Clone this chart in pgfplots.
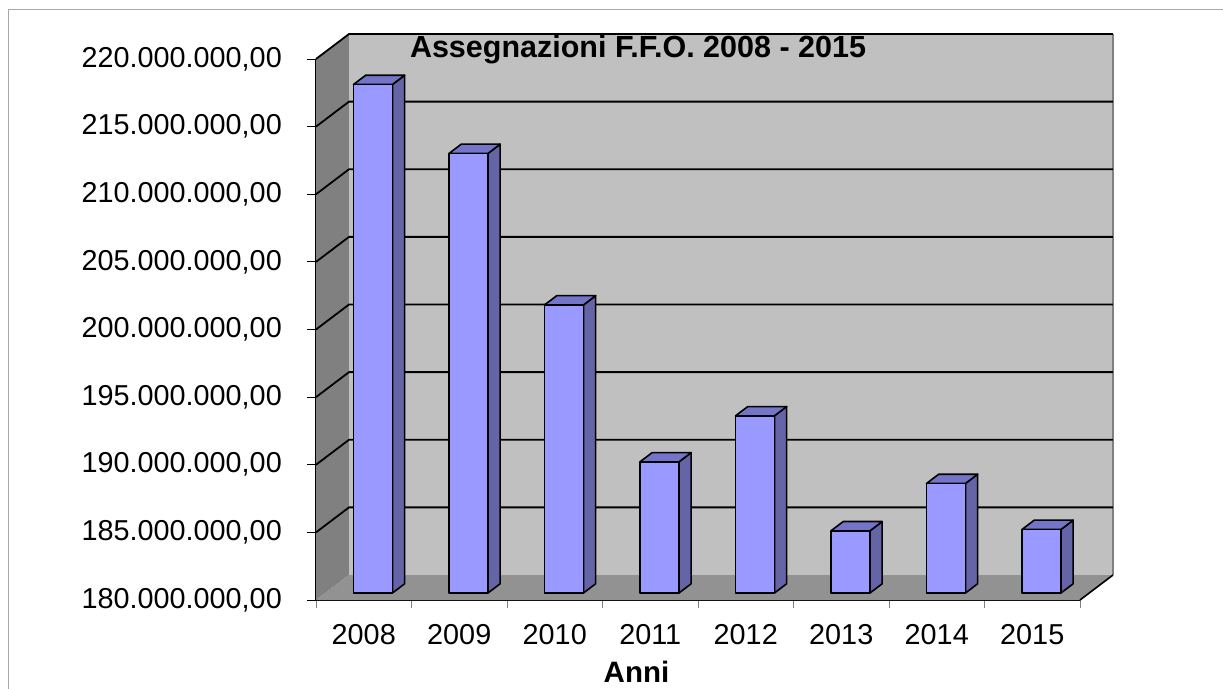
\documentclass[border=0pt]{standalone}
\usepackage{pgfplots}
\pgfplotsset{compat=1.18}
\usepackage{pgfplotstable}
\usepackage{fontspec}
\setmainfont{Liberation Sans}

\definecolor{barfront}{HTML}{9999FF}
\definecolor{bartop}{HTML}{7474C8}
\definecolor{barside}{HTML}{6464A6}
\definecolor{backwall}{HTML}{C0C0C0}
\definecolor{sidewall}{HTML}{808080}
\definecolor{floorgray}{HTML}{929292}
\definecolor{framegray}{HTML}{A8A8A8}

% FFO assignments, millions of euro
\pgfplotstableread{
idx year value
0 2008 217.6
1 2009 212.5
2 2010 201.3
3 2011 189.7
4 2012 193.1
5 2013 184.6
6 2014 188.1
7 2015 184.7
}\ffo

% depth geometry of the 3D box (axis units)
\def\hw{0.204}   % half bar width
\def\fxa{0.0967} % bar front face, x offset
\def\fya{0.517}  % bar front face, y offset
\def\fxb{0.2246} % bar back face, x offset
\def\fyb{1.201}  % bar back face, y offset

\begin{document}
\begin{tikzpicture}[font=\fontsize{29}{33}\selectfont]
\useasboundingbox (0,0) rectangle (1223pt,-688pt);
\draw[framegray, line width=1pt] (8pt,-700pt) -- (8pt,-9pt) -- (1230pt,-9pt);

\begin{axis}[
  at={(316pt,-600pt)}, anchor=south west,
  scale only axis, width=764pt, height=541pt,
  xmin=-0.5, xmax=7.5, ymin=180, ymax=220,
  clip=false,
  axis lines*=left,
  axis line style={line width=1.6pt, black},
  tick align=outside,
  major tick length=9pt, minor tick length=8pt,
  xtick={0,...,7},
  xticklabels={2008,2009,2010,2011,2012,2013,2014,2015},
  minor xtick={-0.5,0.5,...,7.5},
  major x tick style={draw=none},
  minor x tick style={draw=gray, line width=0.8pt},
  major y tick style={draw=black, line width=0.8pt},
  ytick={180,185,...,220},
  yticklabels={{180.000.000,00},{185.000.000,00},{190.000.000,00},{195.000.000,00},
               {200.000.000,00},{205.000.000,00},{210.000.000,00},{215.000.000,00},
               {220.000.000,00}},
  tick label style={font=\fontsize{28.8}{33}\selectfont},
  yticklabel style={anchor=east, inner sep=0pt, xshift=-25pt},
  xticklabel style={anchor=base, inner sep=0pt, yshift=-35pt},
]
% walls and floor
\fill[sidewall] (axis cs:-0.5,180) -- (axis cs:-0.1545,181.848) -- (axis cs:-0.1545,221.848) -- (axis cs:-0.5,220) -- cycle;
\fill[backwall] (axis cs:-0.1545,181.848) rectangle (axis cs:7.8455,221.848);
\fill[floorgray] (axis cs:-0.5,180) -- (axis cs:7.5,180) -- (axis cs:7.8455,181.848) -- (axis cs:-0.1545,181.848) -- cycle;
\draw[sidewall, line width=1.5pt] (axis cs:7.8455,181.848) -- (axis cs:7.8455,221.848);
\draw[black, line width=1.6pt] (axis cs:7.5,180) -- (axis cs:7.8455,181.848);
% gridlines on the side wall and back wall
\draw[black, line width=1.8pt] (axis cs:-0.5,185) -- (axis cs:-0.1545,186.848) -- (axis cs:7.8455,186.848);
\draw[black, line width=1.8pt] (axis cs:-0.5,190) -- (axis cs:-0.1545,191.848) -- (axis cs:7.8455,191.848);
\draw[black, line width=1.8pt] (axis cs:-0.5,195) -- (axis cs:-0.1545,196.848) -- (axis cs:7.8455,196.848);
\draw[black, line width=1.8pt] (axis cs:-0.5,200) -- (axis cs:-0.1545,201.848) -- (axis cs:7.8455,201.848);
\draw[black, line width=1.8pt] (axis cs:-0.5,205) -- (axis cs:-0.1545,206.848) -- (axis cs:7.8455,206.848);
\draw[black, line width=1.8pt] (axis cs:-0.5,210) -- (axis cs:-0.1545,211.848) -- (axis cs:7.8455,211.848);
\draw[black, line width=1.8pt] (axis cs:-0.5,215) -- (axis cs:-0.1545,216.848) -- (axis cs:7.8455,216.848);
\draw[black, line width=1.8pt] (axis cs:-0.5,220) -- (axis cs:-0.1545,221.848) -- (axis cs:7.8455,221.848);
% bars: side, top and front faces
\pgfplotsinvokeforeach{0,...,7}{
  \pgfplotstablegetelem{#1}{value}\of\ffo
  \let\barval\pgfplotsretval
  \pgfmathsetmacro\xa{#1-\hw+\fxa}
  \pgfmathsetmacro\xb{#1+\hw+\fxa}
  \pgfmathsetmacro\xc{#1-\hw+\fxb}
  \pgfmathsetmacro\xd{#1+\hw+\fxb}
  \pgfmathsetmacro\ya{180+\fya}
  \pgfmathsetmacro\yb{180+\fyb}
  \pgfmathsetmacro\ta{\barval+\fya}
  \pgfmathsetmacro\tb{\barval+\fyb}
  \edef\drawbar{%
    \noexpand\addplot[fill=barside, draw=black, line width=1.6pt, line join=round]
      coordinates {(\xb,\ya) (\xd,\yb) (\xd,\tb) (\xb,\ta)} -- cycle;
    \noexpand\addplot[fill=bartop, draw=black, line width=1.6pt, line join=round]
      coordinates {(\xa,\ta) (\xb,\ta) (\xd,\tb) (\xc,\tb)} -- cycle;
    \noexpand\addplot[fill=barfront, draw=black, line width=1.6pt, line join=round]
      coordinates {(\xa,\ya) (\xb,\ya) (\xb,\ta) (\xa,\ta)} -- cycle;
  }
  \drawbar
}
\end{axis}

\node[anchor=base, font=\fontsize{30.5}{34}\selectfont\bfseries] at (638pt,-57pt) {Assegnazioni F.F.O. 2008 - 2015};
\node[anchor=base, font=\fontsize{29.5}{34}\selectfont\bfseries] at (636.5pt,-682pt) {Anni};
\end{tikzpicture}
\end{document}
